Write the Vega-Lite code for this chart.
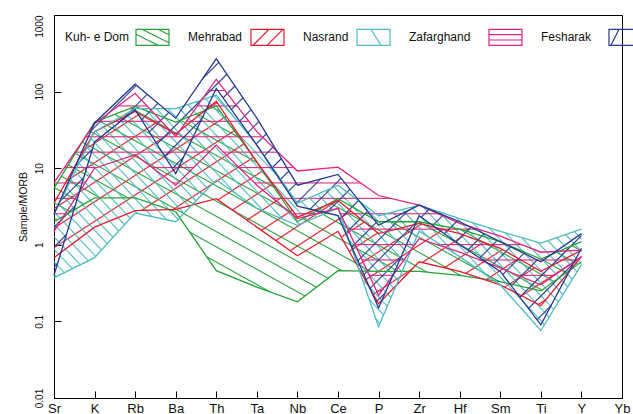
{
"$schema":"https://vega.github.io/schema/vega-lite/v6.json",
"width":568,"height":383,
"autosize":{"type":"none"},
"padding":{"left":54,"top":15,"right":11,"bottom":16},
"config":{"font":"Liberation Sans","view":{"stroke":"#000","strokeWidth":1}},
"data":{"values":[
{"g":"Kuh- e Dom","el":"Sr","lo":2,"hi":5.5},{"g":"Kuh- e Dom","el":"K","lo":4.1,"hi":40},{"g":"Kuh- e Dom","el":"Rb","lo":4.1,"hi":64},{"g":"Kuh- e Dom","el":"Ba","lo":2.7,"hi":40},{"g":"Kuh- e Dom","el":"Th","lo":0.46,"hi":65},{"g":"Kuh- e Dom","el":"Ta","lo":0.28,"hi":12},{"g":"Kuh- e Dom","el":"Nb","lo":0.18,"hi":2.0},{"g":"Kuh- e Dom","el":"Ce","lo":0.46,"hi":4.0},{"g":"Kuh- e Dom","el":"P","lo":0.45,"hi":2.0},{"g":"Kuh- e Dom","el":"Zr","lo":0.45,"hi":2.0},{"g":"Kuh- e Dom","el":"Hf","lo":0.4,"hi":1.6},{"g":"Kuh- e Dom","el":"Sm","lo":0.33,"hi":1.1},{"g":"Kuh- e Dom","el":"Ti","lo":0.25,"hi":0.65},{"g":"Kuh- e Dom","el":"Y","lo":0.6,"hi":1.1},
{"g":"Mehrabad","el":"Sr","lo":0.68,"hi":3.5},{"g":"Mehrabad","el":"K","lo":1.7,"hi":30},{"g":"Mehrabad","el":"Rb","lo":2.8,"hi":55},{"g":"Mehrabad","el":"Ba","lo":2.9,"hi":28},{"g":"Mehrabad","el":"Th","lo":4.0,"hi":75},{"g":"Mehrabad","el":"Ta","lo":1.7,"hi":12},{"g":"Mehrabad","el":"Nb","lo":0.72,"hi":2.3},{"g":"Mehrabad","el":"Ce","lo":1.5,"hi":3.8},{"g":"Mehrabad","el":"P","lo":0.17,"hi":1.4},{"g":"Mehrabad","el":"Zr","lo":0.6,"hi":1.9},{"g":"Mehrabad","el":"Hf","lo":0.45,"hi":1.4},{"g":"Mehrabad","el":"Sm","lo":0.3,"hi":0.9},{"g":"Mehrabad","el":"Ti","lo":0.16,"hi":0.45},{"g":"Mehrabad","el":"Y","lo":0.7,"hi":0.85},
{"g":"Nasrand","el":"Sr","lo":0.37,"hi":2.5},{"g":"Nasrand","el":"K","lo":0.68,"hi":30},{"g":"Nasrand","el":"Rb","lo":2.6,"hi":60},{"g":"Nasrand","el":"Ba","lo":2.0,"hi":60},{"g":"Nasrand","el":"Th","lo":7,"hi":90},{"g":"Nasrand","el":"Ta","lo":3,"hi":20},{"g":"Nasrand","el":"Nb","lo":1.8,"hi":3.5},{"g":"Nasrand","el":"Ce","lo":3.0,"hi":6},{"g":"Nasrand","el":"P","lo":0.085,"hi":2.4},{"g":"Nasrand","el":"Zr","lo":1.5,"hi":3.3},{"g":"Nasrand","el":"Hf","lo":0.7,"hi":2.2},{"g":"Nasrand","el":"Sm","lo":0.3,"hi":1.5},{"g":"Nasrand","el":"Ti","lo":0.076,"hi":1.05},{"g":"Nasrand","el":"Y","lo":0.55,"hi":1.6},
{"g":"Zafarghand","el":"Sr","lo":1.5,"hi":6.5},{"g":"Zafarghand","el":"K","lo":10,"hi":38},{"g":"Zafarghand","el":"Rb","lo":15,"hi":95},{"g":"Zafarghand","el":"Ba","lo":6,"hi":26},{"g":"Zafarghand","el":"Th","lo":20,"hi":145},{"g":"Zafarghand","el":"Ta","lo":6,"hi":30},{"g":"Zafarghand","el":"Nb","lo":2.2,"hi":9.2},{"g":"Zafarghand","el":"Ce","lo":3.0,"hi":10.3},{"g":"Zafarghand","el":"P","lo":0.22,"hi":4.4},{"g":"Zafarghand","el":"Zr","lo":1.2,"hi":3.3},{"g":"Zafarghand","el":"Hf","lo":0.8,"hi":1.9},{"g":"Zafarghand","el":"Sm","lo":0.5,"hi":1.3},{"g":"Zafarghand","el":"Ti","lo":0.3,"hi":0.8},{"g":"Zafarghand","el":"Y","lo":0.7,"hi":0.85},
{"g":"Fesharak","el":"Sr","lo":0.4,"hi":2.5},{"g":"Fesharak","el":"K","lo":22,"hi":39},{"g":"Fesharak","el":"Rb","lo":58,"hi":125},{"g":"Fesharak","el":"Ba","lo":8.5,"hi":45},{"g":"Fesharak","el":"Th","lo":110,"hi":270},{"g":"Fesharak","el":"Ta","lo":20,"hi":45},{"g":"Fesharak","el":"Nb","lo":3.2,"hi":6},{"g":"Fesharak","el":"Ce","lo":2.4,"hi":8.3},{"g":"Fesharak","el":"P","lo":0.15,"hi":1.8},{"g":"Fesharak","el":"Zr","lo":2.4,"hi":3.3},{"g":"Fesharak","el":"Hf","lo":1.0,"hi":2.0},{"g":"Fesharak","el":"Sm","lo":0.45,"hi":1.1},{"g":"Fesharak","el":"Ti","lo":0.09,"hi":0.6},{"g":"Fesharak","el":"Y","lo":0.9,"hi":1.4}
]},
"encoding":{"x":{"field":"el","type":"ordinal","sort":["Sr","K","Rb","Ba","Th","Ta","Nb","Ce","P","Zr","Hf","Sm","Ti","Y","Yb"],"scale":{"type":"point","domain":["Sr","K","Rb","Ba","Th","Ta","Nb","Ce","P","Zr","Hf","Sm","Ti","Y","Yb"],"padding":0},"axis":{"title":null,"labelAngle":0,"tickSize":-7,"labelPadding":11,"labelFontSize":13,"labelColor":"#111","domainColor":"#000","tickColor":"#000","labelBaseline":"top","grid":false}}},
"layer":[
{"transform":[{"filter":"datum.g==='Kuh- e Dom'"}],
"mark":{"type":"area","fill":{"gradient":"linear","x1":0,"y1":1,"x2":1.1524,"y2":0.2274,"stops":[
{"offset":0.0131,"color":"#24a23600"},{"offset":0.0156,"color":"#24a236"},{"offset":0.0181,"color":"#24a23600"},
{"offset":0.0444,"color":"#24a23600"},{"offset":0.0469,"color":"#24a236"},{"offset":0.0494,"color":"#24a23600"},
{"offset":0.0756,"color":"#24a23600"},{"offset":0.0781,"color":"#24a236"},{"offset":0.0806,"color":"#24a23600"},
{"offset":0.1069,"color":"#24a23600"},{"offset":0.1094,"color":"#24a236"},{"offset":0.1119,"color":"#24a23600"},
{"offset":0.1381,"color":"#24a23600"},{"offset":0.1406,"color":"#24a236"},{"offset":0.1431,"color":"#24a23600"},
{"offset":0.1694,"color":"#24a23600"},{"offset":0.1719,"color":"#24a236"},{"offset":0.1744,"color":"#24a23600"},
{"offset":0.2006,"color":"#24a23600"},{"offset":0.2031,"color":"#24a236"},{"offset":0.2056,"color":"#24a23600"},
{"offset":0.2319,"color":"#24a23600"},{"offset":0.2344,"color":"#24a236"},{"offset":0.2369,"color":"#24a23600"},
{"offset":0.2631,"color":"#24a23600"},{"offset":0.2656,"color":"#24a236"},{"offset":0.2681,"color":"#24a23600"},
{"offset":0.2944,"color":"#24a23600"},{"offset":0.2969,"color":"#24a236"},{"offset":0.2994,"color":"#24a23600"},
{"offset":0.3256,"color":"#24a23600"},{"offset":0.3281,"color":"#24a236"},{"offset":0.3306,"color":"#24a23600"},
{"offset":0.3569,"color":"#24a23600"},{"offset":0.3594,"color":"#24a236"},{"offset":0.3619,"color":"#24a23600"},
{"offset":0.3881,"color":"#24a23600"},{"offset":0.3906,"color":"#24a236"},{"offset":0.3931,"color":"#24a23600"},
{"offset":0.4194,"color":"#24a23600"},{"offset":0.4219,"color":"#24a236"},{"offset":0.4244,"color":"#24a23600"},
{"offset":0.4506,"color":"#24a23600"},{"offset":0.4531,"color":"#24a236"},{"offset":0.4556,"color":"#24a23600"},
{"offset":0.4819,"color":"#24a23600"},{"offset":0.4844,"color":"#24a236"},{"offset":0.4869,"color":"#24a23600"},
{"offset":0.5131,"color":"#24a23600"},{"offset":0.5156,"color":"#24a236"},{"offset":0.5181,"color":"#24a23600"},
{"offset":0.5444,"color":"#24a23600"},{"offset":0.5469,"color":"#24a236"},{"offset":0.5494,"color":"#24a23600"},
{"offset":0.5756,"color":"#24a23600"},{"offset":0.5781,"color":"#24a236"},{"offset":0.5806,"color":"#24a23600"},
{"offset":0.6069,"color":"#24a23600"},{"offset":0.6094,"color":"#24a236"},{"offset":0.6119,"color":"#24a23600"},
{"offset":0.6381,"color":"#24a23600"},{"offset":0.6406,"color":"#24a236"},{"offset":0.6431,"color":"#24a23600"},
{"offset":0.6694,"color":"#24a23600"},{"offset":0.6719,"color":"#24a236"},{"offset":0.6744,"color":"#24a23600"},
{"offset":0.7006,"color":"#24a23600"},{"offset":0.7031,"color":"#24a236"},{"offset":0.7056,"color":"#24a23600"},
{"offset":0.7319,"color":"#24a23600"},{"offset":0.7344,"color":"#24a236"},{"offset":0.7369,"color":"#24a23600"},
{"offset":0.7631,"color":"#24a23600"},{"offset":0.7656,"color":"#24a236"},{"offset":0.7681,"color":"#24a23600"},
{"offset":0.7944,"color":"#24a23600"},{"offset":0.7969,"color":"#24a236"},{"offset":0.7994,"color":"#24a23600"},
{"offset":0.8256,"color":"#24a23600"},{"offset":0.8281,"color":"#24a236"},{"offset":0.8306,"color":"#24a23600"},
{"offset":0.8569,"color":"#24a23600"},{"offset":0.8594,"color":"#24a236"},{"offset":0.8619,"color":"#24a23600"},
{"offset":0.8881,"color":"#24a23600"},{"offset":0.8906,"color":"#24a236"},{"offset":0.8931,"color":"#24a23600"},
{"offset":0.9194,"color":"#24a23600"},{"offset":0.9219,"color":"#24a236"},{"offset":0.9244,"color":"#24a23600"},
{"offset":0.9506,"color":"#24a23600"},{"offset":0.9531,"color":"#24a236"},{"offset":0.9556,"color":"#24a23600"},
{"offset":0.9819,"color":"#24a23600"},{"offset":0.9844,"color":"#24a236"},{"offset":0.9869,"color":"#24a23600"}
]}},
"encoding":{"y":{"field":"hi","type":"quantitative","title":"Sample/MORB","scale":{"type":"log","domain":[0.01,1000],"nice":false},"axis":{"title":"Sample/MORB","values":[0.01,0.1,1,10,100,1000],"labelExpr":"''+datum.value","labelAngle":-90,"labelAlign":{"condition":{"test":"datum.value==1000","value":"right"},"value":"center"},"labelBaseline":"bottom","tickSize":-7,"labelPadding":17,"labelFontSize":10,"labelColor":"#111","titleFontSize":10.5,"titleFontWeight":"normal","titleColor":"#111","titlePadding":6,"domainColor":"#000","tickColor":"#000","grid":false}},"y2":{"field":"lo"}}},
{"transform":[{"filter":"datum.g==='Mehrabad'"}],
"mark":{"type":"area","fill":{"gradient":"linear","x1":0,"y1":0,"x2":1.1772,"y2":0.7033,"stops":[
{"offset":0.0154,"color":"#e8192c00"},{"offset":0.0179,"color":"#e8192c"},{"offset":0.0204,"color":"#e8192c00"},
{"offset":0.0511,"color":"#e8192c00"},{"offset":0.0536,"color":"#e8192c"},{"offset":0.0561,"color":"#e8192c00"},
{"offset":0.0868,"color":"#e8192c00"},{"offset":0.0893,"color":"#e8192c"},{"offset":0.0918,"color":"#e8192c00"},
{"offset":0.1225,"color":"#e8192c00"},{"offset":0.125,"color":"#e8192c"},{"offset":0.1275,"color":"#e8192c00"},
{"offset":0.1582,"color":"#e8192c00"},{"offset":0.1607,"color":"#e8192c"},{"offset":0.1632,"color":"#e8192c00"},
{"offset":0.1939,"color":"#e8192c00"},{"offset":0.1964,"color":"#e8192c"},{"offset":0.1989,"color":"#e8192c00"},
{"offset":0.2296,"color":"#e8192c00"},{"offset":0.2321,"color":"#e8192c"},{"offset":0.2346,"color":"#e8192c00"},
{"offset":0.2654,"color":"#e8192c00"},{"offset":0.2679,"color":"#e8192c"},{"offset":0.2704,"color":"#e8192c00"},
{"offset":0.3011,"color":"#e8192c00"},{"offset":0.3036,"color":"#e8192c"},{"offset":0.3061,"color":"#e8192c00"},
{"offset":0.3368,"color":"#e8192c00"},{"offset":0.3393,"color":"#e8192c"},{"offset":0.3418,"color":"#e8192c00"},
{"offset":0.3725,"color":"#e8192c00"},{"offset":0.375,"color":"#e8192c"},{"offset":0.3775,"color":"#e8192c00"},
{"offset":0.4082,"color":"#e8192c00"},{"offset":0.4107,"color":"#e8192c"},{"offset":0.4132,"color":"#e8192c00"},
{"offset":0.4439,"color":"#e8192c00"},{"offset":0.4464,"color":"#e8192c"},{"offset":0.4489,"color":"#e8192c00"},
{"offset":0.4796,"color":"#e8192c00"},{"offset":0.4821,"color":"#e8192c"},{"offset":0.4846,"color":"#e8192c00"},
{"offset":0.5154,"color":"#e8192c00"},{"offset":0.5179,"color":"#e8192c"},{"offset":0.5204,"color":"#e8192c00"},
{"offset":0.5511,"color":"#e8192c00"},{"offset":0.5536,"color":"#e8192c"},{"offset":0.5561,"color":"#e8192c00"},
{"offset":0.5868,"color":"#e8192c00"},{"offset":0.5893,"color":"#e8192c"},{"offset":0.5918,"color":"#e8192c00"},
{"offset":0.6225,"color":"#e8192c00"},{"offset":0.625,"color":"#e8192c"},{"offset":0.6275,"color":"#e8192c00"},
{"offset":0.6582,"color":"#e8192c00"},{"offset":0.6607,"color":"#e8192c"},{"offset":0.6632,"color":"#e8192c00"},
{"offset":0.6939,"color":"#e8192c00"},{"offset":0.6964,"color":"#e8192c"},{"offset":0.6989,"color":"#e8192c00"},
{"offset":0.7296,"color":"#e8192c00"},{"offset":0.7321,"color":"#e8192c"},{"offset":0.7346,"color":"#e8192c00"},
{"offset":0.7654,"color":"#e8192c00"},{"offset":0.7679,"color":"#e8192c"},{"offset":0.7704,"color":"#e8192c00"},
{"offset":0.8011,"color":"#e8192c00"},{"offset":0.8036,"color":"#e8192c"},{"offset":0.8061,"color":"#e8192c00"},
{"offset":0.8368,"color":"#e8192c00"},{"offset":0.8393,"color":"#e8192c"},{"offset":0.8418,"color":"#e8192c00"},
{"offset":0.8725,"color":"#e8192c00"},{"offset":0.875,"color":"#e8192c"},{"offset":0.8775,"color":"#e8192c00"},
{"offset":0.9082,"color":"#e8192c00"},{"offset":0.9107,"color":"#e8192c"},{"offset":0.9132,"color":"#e8192c00"},
{"offset":0.9439,"color":"#e8192c00"},{"offset":0.9464,"color":"#e8192c"},{"offset":0.9489,"color":"#e8192c00"},
{"offset":0.9796,"color":"#e8192c00"},{"offset":0.9821,"color":"#e8192c"},{"offset":0.9846,"color":"#e8192c00"}
]}},
"encoding":{"y":{"field":"hi","type":"quantitative","title":"Sample/MORB"},"y2":{"field":"lo"}}},
{"transform":[{"filter":"datum.g==='Nasrand'"}],
"mark":{"type":"area","fill":{"gradient":"linear","x1":0,"y1":1,"x2":1.2071,"y2":0.4976,"stops":[
{"offset":0.0058,"color":"#4cbcc000"},{"offset":0.0078,"color":"#4cbcc0"},{"offset":0.0098,"color":"#4cbcc000"},
{"offset":0.0214,"color":"#4cbcc000"},{"offset":0.0234,"color":"#4cbcc0"},{"offset":0.0254,"color":"#4cbcc000"},
{"offset":0.0371,"color":"#4cbcc000"},{"offset":0.0391,"color":"#4cbcc0"},{"offset":0.0411,"color":"#4cbcc000"},
{"offset":0.0527,"color":"#4cbcc000"},{"offset":0.0547,"color":"#4cbcc0"},{"offset":0.0567,"color":"#4cbcc000"},
{"offset":0.0683,"color":"#4cbcc000"},{"offset":0.0703,"color":"#4cbcc0"},{"offset":0.0723,"color":"#4cbcc000"},
{"offset":0.0839,"color":"#4cbcc000"},{"offset":0.0859,"color":"#4cbcc0"},{"offset":0.0879,"color":"#4cbcc000"},
{"offset":0.0996,"color":"#4cbcc000"},{"offset":0.1016,"color":"#4cbcc0"},{"offset":0.1036,"color":"#4cbcc000"},
{"offset":0.1152,"color":"#4cbcc000"},{"offset":0.1172,"color":"#4cbcc0"},{"offset":0.1192,"color":"#4cbcc000"},
{"offset":0.1308,"color":"#4cbcc000"},{"offset":0.1328,"color":"#4cbcc0"},{"offset":0.1348,"color":"#4cbcc000"},
{"offset":0.1464,"color":"#4cbcc000"},{"offset":0.1484,"color":"#4cbcc0"},{"offset":0.1504,"color":"#4cbcc000"},
{"offset":0.1621,"color":"#4cbcc000"},{"offset":0.1641,"color":"#4cbcc0"},{"offset":0.1661,"color":"#4cbcc000"},
{"offset":0.1777,"color":"#4cbcc000"},{"offset":0.1797,"color":"#4cbcc0"},{"offset":0.1817,"color":"#4cbcc000"},
{"offset":0.1933,"color":"#4cbcc000"},{"offset":0.1953,"color":"#4cbcc0"},{"offset":0.1973,"color":"#4cbcc000"},
{"offset":0.2089,"color":"#4cbcc000"},{"offset":0.2109,"color":"#4cbcc0"},{"offset":0.2129,"color":"#4cbcc000"},
{"offset":0.2246,"color":"#4cbcc000"},{"offset":0.2266,"color":"#4cbcc0"},{"offset":0.2286,"color":"#4cbcc000"},
{"offset":0.2402,"color":"#4cbcc000"},{"offset":0.2422,"color":"#4cbcc0"},{"offset":0.2442,"color":"#4cbcc000"},
{"offset":0.2558,"color":"#4cbcc000"},{"offset":0.2578,"color":"#4cbcc0"},{"offset":0.2598,"color":"#4cbcc000"},
{"offset":0.2714,"color":"#4cbcc000"},{"offset":0.2734,"color":"#4cbcc0"},{"offset":0.2754,"color":"#4cbcc000"},
{"offset":0.2871,"color":"#4cbcc000"},{"offset":0.2891,"color":"#4cbcc0"},{"offset":0.2911,"color":"#4cbcc000"},
{"offset":0.3027,"color":"#4cbcc000"},{"offset":0.3047,"color":"#4cbcc0"},{"offset":0.3067,"color":"#4cbcc000"},
{"offset":0.3183,"color":"#4cbcc000"},{"offset":0.3203,"color":"#4cbcc0"},{"offset":0.3223,"color":"#4cbcc000"},
{"offset":0.3339,"color":"#4cbcc000"},{"offset":0.3359,"color":"#4cbcc0"},{"offset":0.3379,"color":"#4cbcc000"},
{"offset":0.3496,"color":"#4cbcc000"},{"offset":0.3516,"color":"#4cbcc0"},{"offset":0.3536,"color":"#4cbcc000"},
{"offset":0.3652,"color":"#4cbcc000"},{"offset":0.3672,"color":"#4cbcc0"},{"offset":0.3692,"color":"#4cbcc000"},
{"offset":0.3808,"color":"#4cbcc000"},{"offset":0.3828,"color":"#4cbcc0"},{"offset":0.3848,"color":"#4cbcc000"},
{"offset":0.3964,"color":"#4cbcc000"},{"offset":0.3984,"color":"#4cbcc0"},{"offset":0.4004,"color":"#4cbcc000"},
{"offset":0.4121,"color":"#4cbcc000"},{"offset":0.4141,"color":"#4cbcc0"},{"offset":0.4161,"color":"#4cbcc000"},
{"offset":0.4277,"color":"#4cbcc000"},{"offset":0.4297,"color":"#4cbcc0"},{"offset":0.4317,"color":"#4cbcc000"},
{"offset":0.4433,"color":"#4cbcc000"},{"offset":0.4453,"color":"#4cbcc0"},{"offset":0.4473,"color":"#4cbcc000"},
{"offset":0.4589,"color":"#4cbcc000"},{"offset":0.4609,"color":"#4cbcc0"},{"offset":0.4629,"color":"#4cbcc000"},
{"offset":0.4746,"color":"#4cbcc000"},{"offset":0.4766,"color":"#4cbcc0"},{"offset":0.4786,"color":"#4cbcc000"},
{"offset":0.4902,"color":"#4cbcc000"},{"offset":0.4922,"color":"#4cbcc0"},{"offset":0.4942,"color":"#4cbcc000"},
{"offset":0.5058,"color":"#4cbcc000"},{"offset":0.5078,"color":"#4cbcc0"},{"offset":0.5098,"color":"#4cbcc000"},
{"offset":0.5214,"color":"#4cbcc000"},{"offset":0.5234,"color":"#4cbcc0"},{"offset":0.5254,"color":"#4cbcc000"},
{"offset":0.5371,"color":"#4cbcc000"},{"offset":0.5391,"color":"#4cbcc0"},{"offset":0.5411,"color":"#4cbcc000"},
{"offset":0.5527,"color":"#4cbcc000"},{"offset":0.5547,"color":"#4cbcc0"},{"offset":0.5567,"color":"#4cbcc000"},
{"offset":0.5683,"color":"#4cbcc000"},{"offset":0.5703,"color":"#4cbcc0"},{"offset":0.5723,"color":"#4cbcc000"},
{"offset":0.5839,"color":"#4cbcc000"},{"offset":0.5859,"color":"#4cbcc0"},{"offset":0.5879,"color":"#4cbcc000"},
{"offset":0.5996,"color":"#4cbcc000"},{"offset":0.6016,"color":"#4cbcc0"},{"offset":0.6036,"color":"#4cbcc000"},
{"offset":0.6152,"color":"#4cbcc000"},{"offset":0.6172,"color":"#4cbcc0"},{"offset":0.6192,"color":"#4cbcc000"},
{"offset":0.6308,"color":"#4cbcc000"},{"offset":0.6328,"color":"#4cbcc0"},{"offset":0.6348,"color":"#4cbcc000"},
{"offset":0.6464,"color":"#4cbcc000"},{"offset":0.6484,"color":"#4cbcc0"},{"offset":0.6504,"color":"#4cbcc000"},
{"offset":0.6621,"color":"#4cbcc000"},{"offset":0.6641,"color":"#4cbcc0"},{"offset":0.6661,"color":"#4cbcc000"},
{"offset":0.6777,"color":"#4cbcc000"},{"offset":0.6797,"color":"#4cbcc0"},{"offset":0.6817,"color":"#4cbcc000"},
{"offset":0.6933,"color":"#4cbcc000"},{"offset":0.6953,"color":"#4cbcc0"},{"offset":0.6973,"color":"#4cbcc000"},
{"offset":0.7089,"color":"#4cbcc000"},{"offset":0.7109,"color":"#4cbcc0"},{"offset":0.7129,"color":"#4cbcc000"},
{"offset":0.7246,"color":"#4cbcc000"},{"offset":0.7266,"color":"#4cbcc0"},{"offset":0.7286,"color":"#4cbcc000"},
{"offset":0.7402,"color":"#4cbcc000"},{"offset":0.7422,"color":"#4cbcc0"},{"offset":0.7442,"color":"#4cbcc000"},
{"offset":0.7558,"color":"#4cbcc000"},{"offset":0.7578,"color":"#4cbcc0"},{"offset":0.7598,"color":"#4cbcc000"},
{"offset":0.7714,"color":"#4cbcc000"},{"offset":0.7734,"color":"#4cbcc0"},{"offset":0.7754,"color":"#4cbcc000"},
{"offset":0.7871,"color":"#4cbcc000"},{"offset":0.7891,"color":"#4cbcc0"},{"offset":0.7911,"color":"#4cbcc000"},
{"offset":0.8027,"color":"#4cbcc000"},{"offset":0.8047,"color":"#4cbcc0"},{"offset":0.8067,"color":"#4cbcc000"},
{"offset":0.8183,"color":"#4cbcc000"},{"offset":0.8203,"color":"#4cbcc0"},{"offset":0.8223,"color":"#4cbcc000"},
{"offset":0.8339,"color":"#4cbcc000"},{"offset":0.8359,"color":"#4cbcc0"},{"offset":0.8379,"color":"#4cbcc000"},
{"offset":0.8496,"color":"#4cbcc000"},{"offset":0.8516,"color":"#4cbcc0"},{"offset":0.8536,"color":"#4cbcc000"},
{"offset":0.8652,"color":"#4cbcc000"},{"offset":0.8672,"color":"#4cbcc0"},{"offset":0.8692,"color":"#4cbcc000"},
{"offset":0.8808,"color":"#4cbcc000"},{"offset":0.8828,"color":"#4cbcc0"},{"offset":0.8848,"color":"#4cbcc000"},
{"offset":0.8964,"color":"#4cbcc000"},{"offset":0.8984,"color":"#4cbcc0"},{"offset":0.9004,"color":"#4cbcc000"},
{"offset":0.9121,"color":"#4cbcc000"},{"offset":0.9141,"color":"#4cbcc0"},{"offset":0.9161,"color":"#4cbcc000"},
{"offset":0.9277,"color":"#4cbcc000"},{"offset":0.9297,"color":"#4cbcc0"},{"offset":0.9317,"color":"#4cbcc000"},
{"offset":0.9433,"color":"#4cbcc000"},{"offset":0.9453,"color":"#4cbcc0"},{"offset":0.9473,"color":"#4cbcc000"},
{"offset":0.9589,"color":"#4cbcc000"},{"offset":0.9609,"color":"#4cbcc0"},{"offset":0.9629,"color":"#4cbcc000"},
{"offset":0.9746,"color":"#4cbcc000"},{"offset":0.9766,"color":"#4cbcc0"},{"offset":0.9786,"color":"#4cbcc000"},
{"offset":0.9902,"color":"#4cbcc000"},{"offset":0.9922,"color":"#4cbcc0"},{"offset":0.9942,"color":"#4cbcc000"}
]}},
"encoding":{"y":{"field":"hi","type":"quantitative","title":"Sample/MORB"},"y2":{"field":"lo"}}},
{"transform":[{"filter":"datum.g==='Zafarghand'"}],
"mark":{"type":"area","fill":{"gradient":"linear","x1":0,"y1":0,"x2":0,"y2":1,"stops":[
{"offset":0.0474,"color":"#e3237f00"},{"offset":0.0524,"color":"#e3237f"},{"offset":0.0574,"color":"#e3237f00"},
{"offset":0.1187,"color":"#e3237f00"},{"offset":0.1237,"color":"#e3237f"},{"offset":0.1287,"color":"#e3237f00"},
{"offset":0.19,"color":"#e3237f00"},{"offset":0.195,"color":"#e3237f"},{"offset":0.2,"color":"#e3237f00"},
{"offset":0.2613,"color":"#e3237f00"},{"offset":0.2663,"color":"#e3237f"},{"offset":0.2713,"color":"#e3237f00"},
{"offset":0.3327,"color":"#e3237f00"},{"offset":0.3377,"color":"#e3237f"},{"offset":0.3427,"color":"#e3237f00"},
{"offset":0.404,"color":"#e3237f00"},{"offset":0.409,"color":"#e3237f"},{"offset":0.414,"color":"#e3237f00"},
{"offset":0.4753,"color":"#e3237f00"},{"offset":0.4803,"color":"#e3237f"},{"offset":0.4853,"color":"#e3237f00"},
{"offset":0.5467,"color":"#e3237f00"},{"offset":0.5517,"color":"#e3237f"},{"offset":0.5567,"color":"#e3237f00"},
{"offset":0.618,"color":"#e3237f00"},{"offset":0.623,"color":"#e3237f"},{"offset":0.628,"color":"#e3237f00"},
{"offset":0.6893,"color":"#e3237f00"},{"offset":0.6943,"color":"#e3237f"},{"offset":0.6993,"color":"#e3237f00"},
{"offset":0.7607,"color":"#e3237f00"},{"offset":0.7657,"color":"#e3237f"},{"offset":0.7707,"color":"#e3237f00"},
{"offset":0.832,"color":"#e3237f00"},{"offset":0.837,"color":"#e3237f"},{"offset":0.842,"color":"#e3237f00"},
{"offset":0.9033,"color":"#e3237f00"},{"offset":0.9083,"color":"#e3237f"},{"offset":0.9133,"color":"#e3237f00"},
{"offset":0.9747,"color":"#e3237f00"},{"offset":0.9797,"color":"#e3237f"},{"offset":0.9847,"color":"#e3237f00"}
]}},
"encoding":{"y":{"field":"hi","type":"quantitative","title":"Sample/MORB"},"y2":{"field":"lo"}}},
{"transform":[{"filter":"datum.g==='Fesharak'"}],
"mark":{"type":"area","fill":{"gradient":"linear","x1":0,"y1":0,"x2":1.1992,"y2":0.6055,"stops":[
{"offset":0.0105,"color":"#243a9200"},{"offset":0.0125,"color":"#243a92"},{"offset":0.0145,"color":"#243a9200"},
{"offset":0.0355,"color":"#243a9200"},{"offset":0.0375,"color":"#243a92"},{"offset":0.0395,"color":"#243a9200"},
{"offset":0.0605,"color":"#243a9200"},{"offset":0.0625,"color":"#243a92"},{"offset":0.0645,"color":"#243a9200"},
{"offset":0.0855,"color":"#243a9200"},{"offset":0.0875,"color":"#243a92"},{"offset":0.0895,"color":"#243a9200"},
{"offset":0.1105,"color":"#243a9200"},{"offset":0.1125,"color":"#243a92"},{"offset":0.1145,"color":"#243a9200"},
{"offset":0.1355,"color":"#243a9200"},{"offset":0.1375,"color":"#243a92"},{"offset":0.1395,"color":"#243a9200"},
{"offset":0.1605,"color":"#243a9200"},{"offset":0.1625,"color":"#243a92"},{"offset":0.1645,"color":"#243a9200"},
{"offset":0.1855,"color":"#243a9200"},{"offset":0.1875,"color":"#243a92"},{"offset":0.1895,"color":"#243a9200"},
{"offset":0.2105,"color":"#243a9200"},{"offset":0.2125,"color":"#243a92"},{"offset":0.2145,"color":"#243a9200"},
{"offset":0.2355,"color":"#243a9200"},{"offset":0.2375,"color":"#243a92"},{"offset":0.2395,"color":"#243a9200"},
{"offset":0.2605,"color":"#243a9200"},{"offset":0.2625,"color":"#243a92"},{"offset":0.2645,"color":"#243a9200"},
{"offset":0.2855,"color":"#243a9200"},{"offset":0.2875,"color":"#243a92"},{"offset":0.2895,"color":"#243a9200"},
{"offset":0.3105,"color":"#243a9200"},{"offset":0.3125,"color":"#243a92"},{"offset":0.3145,"color":"#243a9200"},
{"offset":0.3355,"color":"#243a9200"},{"offset":0.3375,"color":"#243a92"},{"offset":0.3395,"color":"#243a9200"},
{"offset":0.3605,"color":"#243a9200"},{"offset":0.3625,"color":"#243a92"},{"offset":0.3645,"color":"#243a9200"},
{"offset":0.3855,"color":"#243a9200"},{"offset":0.3875,"color":"#243a92"},{"offset":0.3895,"color":"#243a9200"},
{"offset":0.4105,"color":"#243a9200"},{"offset":0.4125,"color":"#243a92"},{"offset":0.4145,"color":"#243a9200"},
{"offset":0.4355,"color":"#243a9200"},{"offset":0.4375,"color":"#243a92"},{"offset":0.4395,"color":"#243a9200"},
{"offset":0.4605,"color":"#243a9200"},{"offset":0.4625,"color":"#243a92"},{"offset":0.4645,"color":"#243a9200"},
{"offset":0.4855,"color":"#243a9200"},{"offset":0.4875,"color":"#243a92"},{"offset":0.4895,"color":"#243a9200"},
{"offset":0.5105,"color":"#243a9200"},{"offset":0.5125,"color":"#243a92"},{"offset":0.5145,"color":"#243a9200"},
{"offset":0.5355,"color":"#243a9200"},{"offset":0.5375,"color":"#243a92"},{"offset":0.5395,"color":"#243a9200"},
{"offset":0.5605,"color":"#243a9200"},{"offset":0.5625,"color":"#243a92"},{"offset":0.5645,"color":"#243a9200"},
{"offset":0.5855,"color":"#243a9200"},{"offset":0.5875,"color":"#243a92"},{"offset":0.5895,"color":"#243a9200"},
{"offset":0.6105,"color":"#243a9200"},{"offset":0.6125,"color":"#243a92"},{"offset":0.6145,"color":"#243a9200"},
{"offset":0.6355,"color":"#243a9200"},{"offset":0.6375,"color":"#243a92"},{"offset":0.6395,"color":"#243a9200"},
{"offset":0.6605,"color":"#243a9200"},{"offset":0.6625,"color":"#243a92"},{"offset":0.6645,"color":"#243a9200"},
{"offset":0.6855,"color":"#243a9200"},{"offset":0.6875,"color":"#243a92"},{"offset":0.6895,"color":"#243a9200"},
{"offset":0.7105,"color":"#243a9200"},{"offset":0.7125,"color":"#243a92"},{"offset":0.7145,"color":"#243a9200"},
{"offset":0.7355,"color":"#243a9200"},{"offset":0.7375,"color":"#243a92"},{"offset":0.7395,"color":"#243a9200"},
{"offset":0.7605,"color":"#243a9200"},{"offset":0.7625,"color":"#243a92"},{"offset":0.7645,"color":"#243a9200"},
{"offset":0.7855,"color":"#243a9200"},{"offset":0.7875,"color":"#243a92"},{"offset":0.7895,"color":"#243a9200"},
{"offset":0.8105,"color":"#243a9200"},{"offset":0.8125,"color":"#243a92"},{"offset":0.8145,"color":"#243a9200"},
{"offset":0.8355,"color":"#243a9200"},{"offset":0.8375,"color":"#243a92"},{"offset":0.8395,"color":"#243a9200"},
{"offset":0.8605,"color":"#243a9200"},{"offset":0.8625,"color":"#243a92"},{"offset":0.8645,"color":"#243a9200"},
{"offset":0.8855,"color":"#243a9200"},{"offset":0.8875,"color":"#243a92"},{"offset":0.8895,"color":"#243a9200"},
{"offset":0.9105,"color":"#243a9200"},{"offset":0.9125,"color":"#243a92"},{"offset":0.9145,"color":"#243a9200"},
{"offset":0.9355,"color":"#243a9200"},{"offset":0.9375,"color":"#243a92"},{"offset":0.9395,"color":"#243a9200"},
{"offset":0.9605,"color":"#243a9200"},{"offset":0.9625,"color":"#243a92"},{"offset":0.9645,"color":"#243a9200"},
{"offset":0.9855,"color":"#243a9200"},{"offset":0.9875,"color":"#243a92"},{"offset":0.9895,"color":"#243a9200"}
]}},
"encoding":{"y":{"field":"hi","type":"quantitative","title":"Sample/MORB"},"y2":{"field":"lo"}}},
{"mark":{"type":"line","strokeWidth":1.3},
"encoding":{"y":{"field":"hi","type":"quantitative","title":"Sample/MORB"},"detail":{"field":"g","type":"nominal"},"stroke":{"condition":[{"test":"datum.g==='Mehrabad'","value":"#e8192c"},{"test":"datum.g==='Nasrand'","value":"#4cbcc0"},{"test":"datum.g==='Zafarghand'","value":"#e3237f"},{"test":"datum.g==='Fesharak'","value":"#243a92"}],"value":"#24a236"}}},
{"mark":{"type":"line","strokeWidth":1.3},
"encoding":{"y":{"field":"lo","type":"quantitative","title":"Sample/MORB"},"detail":{"field":"g","type":"nominal"},"stroke":{"condition":[{"test":"datum.g==='Mehrabad'","value":"#e8192c"},{"test":"datum.g==='Nasrand'","value":"#4cbcc0"},{"test":"datum.g==='Zafarghand'","value":"#e3237f"},{"test":"datum.g==='Fesharak'","value":"#243a92"}],"value":"#24a236"}}},
{"mark":{"type":"point","filled":false,"opacity":0},
"encoding":{"y":{"field":"hi","type":"quantitative","title":"Sample/MORB"},
"color":{"field":"g","type":"nominal","scale":{"domain":["Kuh- e Dom","Mehrabad","Nasrand","Zafarghand","Fesharak"],"range":["#24a236","#e8192c","#4cbcc0","#e3237f","#243a92"]},"legend":{"title":" ","titleFontSize":11,"titlePadding":10,"orient":"top-left","offset":-5,"direction":"horizontal","columnPadding":-14,"labelFontSize":12,"labelColor":"#111","symbolSize":4,"symbolStrokeWidth":1.2,"symbolOpacity":1}},
"shape":{"field":"g","type":"nominal","scale":{"domain":["Kuh- e Dom","Mehrabad","Nasrand","Zafarghand","Fesharak"],"range":["M81,-8H114V8H81Z M81,-3L103,8 M87,-8L114,5.5 M103,-8L114,-2.5","M73,-8H106V8H73Z M75,8L91,-8 M89,8L105,-8","M64,-8H97V8H64Z M78,-8L88,8","M90,-8H123V8H90Z M90,-2.7H123 M90,2.7H123","M78,-8H111V8H78Z M80,8L88,-8 M103,8L111,-8"]},"legend":{"title":" ","titleFontSize":11,"titlePadding":10,"orient":"top-left","offset":-5,"direction":"horizontal","columnPadding":-14,"labelFontSize":12,"labelColor":"#111","symbolSize":4,"symbolStrokeWidth":1.2,"symbolOpacity":1}}}}
]
}
